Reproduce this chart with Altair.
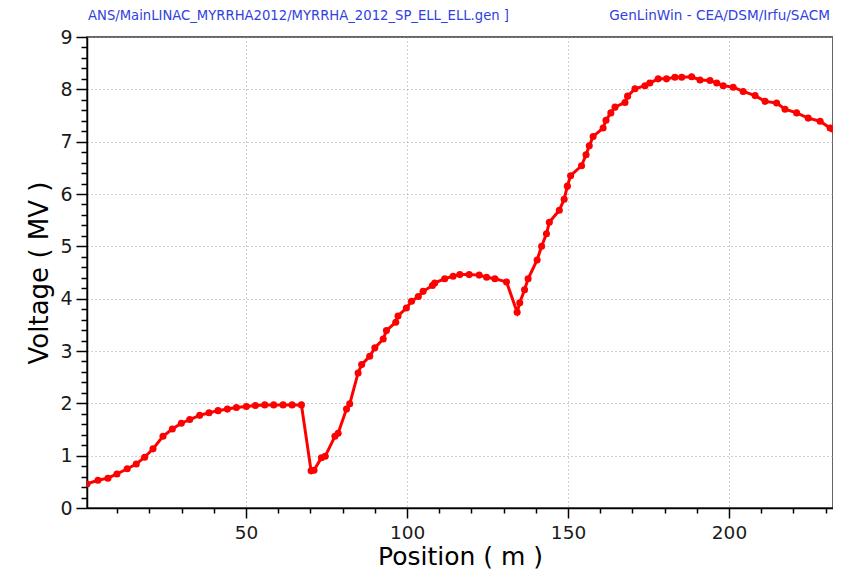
import altair as alt
import pandas as pd

position = [0.6, 4.0, 7.1, 9.9, 13.1, 15.9, 18.5, 21.1, 24.2, 27.1, 29.9, 32.5, 35.6, 38.5,
            41.3, 44.2, 47.0, 50.1, 52.9, 55.8, 58.6, 61.5, 64.3, 67.2, 70.2, 71.1, 73.4,
            74.6, 77.6, 78.6, 81.2, 82.2, 84.8, 85.9, 88.4, 90.0, 92.6, 93.6, 96.5, 97.2,
            99.8, 101.4, 103.5, 105.0, 107.9, 108.6, 111.7, 114.3, 116.4, 119.3, 122.4,
            124.7, 127.3, 130.9, 134.2, 135.0, 136.5, 137.6, 140.4, 141.8, 143.3, 144.2,
            147.3, 148.8, 149.8, 150.8, 154.2, 155.6, 156.6, 157.8, 160.9, 161.8, 163.3,
            164.6, 167.7, 168.5, 170.8, 173.9, 175.4, 178.0, 180.6, 183.2, 185.3, 188.4,
            191.0, 194.1, 196.2, 198.2, 201.3, 204.4, 208.1, 211.2, 214.8, 217.4, 221.0,
            224.6, 228.3, 231.4, 232.2]
voltage = [0.46, 0.53, 0.57, 0.65, 0.75, 0.84, 0.97, 1.13, 1.37, 1.51, 1.62, 1.69, 1.77, 1.82,
           1.86, 1.89, 1.92, 1.94, 1.96, 1.97, 1.97, 1.97, 1.97, 1.97, 0.71, 0.72, 0.96,
           0.99, 1.37, 1.43, 1.89, 1.99, 2.58, 2.74, 2.90, 3.06, 3.23, 3.39, 3.55, 3.67,
           3.82, 3.95, 4.04, 4.14, 4.25, 4.30, 4.38, 4.43, 4.46, 4.46, 4.45,
           4.41, 4.38, 4.32, 3.74, 3.92, 4.17, 4.38, 4.74, 5.00, 5.24, 5.46,
           5.69, 5.90, 6.15, 6.35, 6.54, 6.75, 6.92, 7.10, 7.26, 7.41, 7.55,
           7.66, 7.75, 7.87, 8.01, 8.07, 8.12, 8.20, 8.20, 8.23, 8.23, 8.24,
           8.18, 8.17, 8.12, 8.07, 8.04, 7.96, 7.88, 7.77, 7.74, 7.62, 7.55,
           7.45, 7.39, 7.26, 7.24]

x_ticks = list(range(10, 240, 10))
y_ticks = [round(i * 0.2, 1) for i in range(0, 46)]
x_domain = [0.6, 232.3]
y_domain = [0, 9]

header_left = "ANS/MainLINAC_MYRRHA2012/MYRRHA_2012_SP_ELL_ELL.gen ]"
header_right = "GenLinWin - CEA/DSM/Irfu/SACM"

df = pd.DataFrame({"Position": position, "Voltage": voltage})

FONT = "DejaVu Sans"
x_major = "datum.value % 50 === 0"
y_major = "abs(datum.value - round(datum.value)) < 0.001"

x_axis = alt.Axis(
    values=x_ticks,
    labelExpr=f"{x_major} ? datum.label : ''",
    tickSize={"condition": {"test": x_major, "value": 10}, "value": 5},
    gridOpacity={"condition": {"test": x_major, "value": 1}, "value": 0},
    grid=True, gridColor="#a0a0a0", gridDash=[1, 3], gridWidth=1,
    domainColor="#000000", tickColor="#000000", tickWidth=1.5, domainWidth=1.5,
    labelFont=FONT, labelFontSize=18.5, labelColor="#1a1a1a", labelPadding=5,
    labelFlush=False, labelOverlap=False,
    title="Position ( m )", titleFont=FONT, titleFontSize=25, titleFontWeight="normal",
    titleColor="#000000", titleBaseline="alphabetic", titleY=56,
)
y_axis = alt.Axis(
    values=y_ticks,
    labelExpr=f"{y_major} ? '' + round(datum.value) : ''",
    tickSize={"condition": {"test": y_major, "value": 11}, "value": 6},
    gridOpacity={"condition": {"test": y_major, "value": 1}, "value": 0},
    grid=True, gridColor="#a0a0a0", gridDash=[1, 3], gridWidth=1,
    domainColor="#000000", tickColor="#000000", tickWidth=1.5, domainWidth=1.5,
    labelFont=FONT, labelFontSize=19, labelColor="#1a1a1a", labelPadding=4,
    labelFlush=False, labelOverlap=False,
    title="Voltage ( MV )", titleFont=FONT, titleFontSize=26, titleFontWeight="normal",
    titleColor="#000000", titlePadding=7,
)

line = alt.Chart(df).mark_line(
    color="#ff0000", strokeWidth=3, clip=True,
    point=alt.OverlayMarkDef(filled=True, size=50, color="#ff0000", clip=True),
).encode(
    x=alt.X("Position:Q", scale=alt.Scale(domain=x_domain, nice=False, zero=False), axis=x_axis),
    y=alt.Y("Voltage:Q", scale=alt.Scale(domain=y_domain, nice=False), axis=y_axis),
)

hdr = pd.DataFrame({"t": [header_left]})
hdr2 = pd.DataFrame({"t": [header_right]})
left_text = alt.Chart(hdr).mark_text(
    align="left", baseline="alphabetic", font=FONT, fontSize=13.2, color="#3140e0"
).encode(x=alt.value(1), y=alt.value(-17.5), text="t:N")
right_text = alt.Chart(hdr2).mark_text(
    align="right", baseline="alphabetic", font=FONT, fontSize=13.6, color="#3140e0"
).encode(x=alt.value(743), y=alt.value(-17.5), text="t:N")

chart = alt.layer(line, left_text, right_text).properties(
    width=746, height=471,
    autosize=alt.AutoSizeParams(type="none"),
    padding={"left": 79, "top": 29, "right": 0, "bottom": 61},
).configure_view(stroke="#333333", strokeWidth=1.5)

chart.save("out.html", embed_options={"renderer": "svg", "actions": False})
